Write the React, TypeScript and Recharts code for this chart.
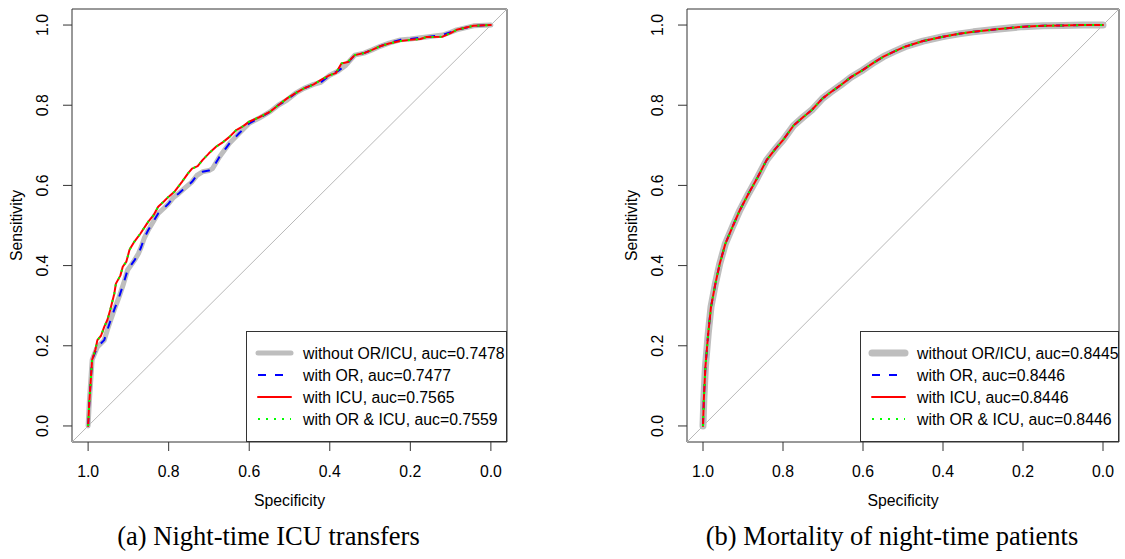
import React from 'react'
import { LineChart, Line, XAxis, YAxis, ReferenceLine, ReferenceArea } from 'recharts'

// ---- data ([specificity, sensitivity]) ----
const ticks = [0, 0.2, 0.4, 0.6, 0.8, 1.0]
const domain: [number, number] = [-0.04, 1.04]
const diagonal = [
  { x: 1.04, y: -0.04 },
  { x: -0.04, y: 1.04 },
]

// (a) without OR/ICU and with OR overlap at this scale
const rocA_base: [number, number][] = [
  [1, 0], [0.997, 0.06], [0.993, 0.12], [0.99, 0.165], [0.982, 0.185], [0.977, 0.197],
  [0.96, 0.214], [0.952, 0.24], [0.944, 0.264], [0.935, 0.29], [0.923, 0.322], [0.912, 0.355],
  [0.902, 0.389], [0.885, 0.413], [0.875, 0.43], [0.868, 0.447], [0.86, 0.47], [0.851, 0.488],
  [0.838, 0.51], [0.826, 0.53], [0.812, 0.543], [0.8, 0.555], [0.788, 0.57], [0.775, 0.58],
  [0.758, 0.595], [0.742, 0.609], [0.73, 0.625], [0.716, 0.634], [0.7, 0.637], [0.691, 0.642],
  [0.674, 0.671], [0.66, 0.69], [0.649, 0.705], [0.625, 0.73], [0.6, 0.755], [0.575, 0.768],
  [0.548, 0.784], [0.528, 0.8], [0.506, 0.813], [0.485, 0.83], [0.464, 0.842], [0.44, 0.852],
  [0.422, 0.857], [0.4, 0.875], [0.38, 0.885], [0.36, 0.9], [0.338, 0.925], [0.315, 0.93],
  [0.295, 0.938], [0.275, 0.947], [0.253, 0.955], [0.225, 0.963], [0.2, 0.965], [0.16, 0.97],
  [0.12, 0.975], [0.1, 0.982], [0.085, 0.988], [0.043, 0.998], [0, 1],
]
const rocA_or = rocA_base

// (a) with ICU and with OR & ICU overlap at this scale
const rocA_icu: [number, number][] = [
  [1, 0], [0.997, 0.06], [0.993, 0.12], [0.99, 0.165], [0.982, 0.19], [0.977, 0.214],
  [0.968, 0.225], [0.96, 0.247], [0.952, 0.265], [0.945, 0.29], [0.935, 0.33], [0.931, 0.355],
  [0.92, 0.375], [0.914, 0.397], [0.905, 0.41], [0.897, 0.44], [0.885, 0.46], [0.87, 0.48],
  [0.851, 0.509], [0.838, 0.525], [0.826, 0.547], [0.812, 0.56], [0.8, 0.572], [0.785, 0.585],
  [0.767, 0.609], [0.752, 0.63], [0.742, 0.642], [0.728, 0.648], [0.716, 0.663], [0.7, 0.68],
  [0.683, 0.696], [0.665, 0.708], [0.649, 0.721], [0.632, 0.738], [0.615, 0.748], [0.6, 0.759],
  [0.575, 0.77], [0.548, 0.784], [0.528, 0.8], [0.506, 0.817], [0.485, 0.83], [0.464, 0.842],
  [0.44, 0.852], [0.422, 0.863], [0.4, 0.875], [0.385, 0.88], [0.371, 0.904], [0.355, 0.908],
  [0.338, 0.925], [0.315, 0.93], [0.295, 0.938], [0.275, 0.947], [0.253, 0.954], [0.225, 0.96],
  [0.2, 0.963], [0.175, 0.965], [0.16, 0.97], [0.12, 0.971], [0.1, 0.98], [0.085, 0.988],
  [0.043, 0.998], [0, 1],
]
const rocA_orIcu = rocA_icu

// (b) all four models coincide
const rocB: [number, number][] = [
  [1, 0], [0.998, 0.064], [0.994, 0.147], [0.987, 0.23], [0.98, 0.297], [0.969, 0.355],
  [0.958, 0.405], [0.944, 0.455], [0.926, 0.497], [0.908, 0.538], [0.886, 0.58], [0.863, 0.621],
  [0.841, 0.663], [0.82, 0.69], [0.8, 0.713], [0.773, 0.75], [0.75, 0.77], [0.728, 0.788],
  [0.701, 0.817], [0.68, 0.833], [0.656, 0.85], [0.63, 0.87], [0.6, 0.888], [0.575, 0.905],
  [0.549, 0.921], [0.52, 0.935], [0.495, 0.946], [0.45, 0.96], [0.4, 0.971], [0.36, 0.978],
  [0.324, 0.983], [0.26, 0.99], [0.2, 0.996], [0.15, 0.998], [0.099, 0.999], [0.05, 1], [0, 1],
]

const legendA = [
  'without OR/ICU, auc=0.7478',
  'with OR, auc=0.7477',
  'with ICU, auc=0.7565',
  'with OR & ICU, auc=0.7559',
]
const legendB = [
  'without OR/ICU, auc=0.8445',
  'with OR, auc=0.8446',
  'with ICU, auc=0.8446',
  'with OR & ICU, auc=0.8446',
]
const captions = ['(a) Night-time ICU transfers', '(b) Mortality of night-time patients']

// ---- styles ----
const FONT = '"Liberation Sans", Arial, Helvetica, sans-serif'
const FS = 15.8
const FRAME = '#333'

interface LineStyle {
  stroke: string
  width: number
  dash?: string
  cap: 'round' | 'butt'
}

const styles = (grayWidth: number): LineStyle[] => [
  { stroke: '#BEBEBE', width: grayWidth, cap: 'round' },
  { stroke: '#0000FF', width: 2, dash: '8 9', cap: 'butt' },
  { stroke: '#FF0000', width: 2, cap: 'round' },
  { stroke: '#00FF00', width: 2, dash: '2 6', cap: 'butt' },
]

const toPoints = (roc: [number, number][]) => roc.map(([spec, sens]) => ({ spec, sens }))

const XTick = (props: any) => {
  const { x, y, payload } = props
  return (
    <text x={x} y={y + 20} textAnchor="middle" dominantBaseline="central" fontFamily={FONT} fontSize={FS} fill="#000">
      {Number(payload.value).toFixed(1)}
    </text>
  )
}

const YTick = (props: any) => {
  const { x, y, payload } = props
  const cx = x - 20
  return (
    <text x={cx} y={y} transform={`rotate(-90 ${cx} ${y})`} textAnchor="middle" dominantBaseline="central" fontFamily={FONT} fontSize={FS} fill="#000">
      {Number(payload.value).toFixed(1)}
    </text>
  )
}

interface PanelProps {
  left: number
  width: number
  rightMargin: number
  curves: [number, number][][]
  grayWidth: number
}

const RocPanel: React.FC<PanelProps> = ({ left, width, rightMargin, curves, grayWidth }) => {
  const ls = styles(grayWidth)
  return (
    <div style={{ position: 'absolute', left, top: 0 }}>
      <LineChart width={width} height={520} margin={{ top: 9, right: rightMargin, bottom: 0, left: 0 }}>
        <XAxis
          dataKey="spec"
          type="number"
          domain={domain}
          ticks={ticks}
          reversed
          height={78}
          axisLine={false}
          tickSize={9}
          tickMargin={0}
          tickLine={{ stroke: FRAME }}
          tick={<XTick />}
          label={{
            content: (p: any) => {
              const vb = p.viewBox
              return (
                <text x={vb.x + vb.width / 2} y={vb.y + 58} textAnchor="middle" dominantBaseline="central" fontFamily={FONT} fontSize={FS} fill="#000">
                  Specificity
                </text>
              )
            },
          }}
        />
        <YAxis
          dataKey="sens"
          type="number"
          domain={domain}
          ticks={ticks}
          width={72}
          axisLine={false}
          tickSize={9}
          tickMargin={0}
          tickLine={{ stroke: FRAME }}
          tick={<YTick />}
          label={{
            content: (p: any) => {
              const vb = p.viewBox
              const cx = vb.x + vb.width - 56
              const cy = vb.y + vb.height / 2
              return (
                <text x={cx} y={cy} transform={`rotate(-90 ${cx} ${cy})`} textAnchor="middle" dominantBaseline="central" fontFamily={FONT} fontSize={FS} fill="#000">
                  Sensitivity
                </text>
              )
            },
          }}
        />
        <ReferenceArea x1={domain[0]} x2={domain[1]} y1={domain[0]} y2={domain[1]} fill="none" stroke={FRAME} strokeWidth={1} ifOverflow="visible" />
        <ReferenceLine segment={diagonal} stroke="#B8B8B8" strokeWidth={1} ifOverflow="visible" />
        {curves.map((roc, i) => (
          <Line
            key={i}
            data={toPoints(roc)}
            dataKey="sens"
            type="linear"
            stroke={ls[i].stroke}
            strokeWidth={ls[i].width}
            strokeDasharray={ls[i].dash}
            strokeLinecap={ls[i].cap}
            strokeLinejoin="round"
            dot={false}
            activeDot={false}
            isAnimationActive={false}
          />
        ))}
      </LineChart>
    </div>
  )
}

const LegendBox: React.FC<{ left: number; width: number; labels: string[]; grayWidth: number }> = ({ left, width, labels, grayWidth }) => {
  const ls = styles(grayWidth)
  return (
    <svg style={{ position: 'absolute', left, top: 331 }} width={width} height={111}>
      <rect x={0.5} y={0.5} width={width - 1} height={110} fill="#fff" stroke={FRAME} strokeWidth={1} />
      {labels.map((lab, i) => {
        const y = 22 + i * 22
        return (
          <g key={i}>
            <line x1={12} x2={45} y1={y} y2={y} stroke={ls[i].stroke} strokeWidth={ls[i].width} strokeDasharray={ls[i].dash} strokeLinecap={ls[i].cap} />
            <text x={57} y={y} dominantBaseline="central" fontFamily={FONT} fontSize={FS} fill="#000">
              {lab}
            </text>
          </g>
        )
      })}
    </svg>
  )
}

export default function App() {
  return (
    <div style={{ position: 'absolute', left: 0, top: 0, width: 1125, height: 559, background: '#fff', overflow: 'hidden' }}>
      <RocPanel left={0} width={540} rightMargin={33} curves={[rocA_base, rocA_or, rocA_icu, rocA_orIcu]} grayWidth={5} />
      <RocPanel left={615} width={510} rightMargin={6} curves={[rocB, rocB, rocB, rocB]} grayWidth={7} />
      <LegendBox left={246} width={261} labels={legendA} grayWidth={5} />
      <LegendBox left={860} width={259} labels={legendB} grayWidth={7} />
      <svg style={{ position: 'absolute', left: 0, top: 0 }} width={1125} height={559}>
        <text x={268.5} y={545} textAnchor="middle" fontFamily='"Liberation Serif", "Times New Roman", serif' fontSize={26.5} fill="#000">
          {captions[0]}
        </text>
        <text x={892} y={545} textAnchor="middle" fontFamily='"Liberation Serif", "Times New Roman", serif' fontSize={26.5} fill="#000">
          {captions[1]}
        </text>
      </svg>
    </div>
  )
}
